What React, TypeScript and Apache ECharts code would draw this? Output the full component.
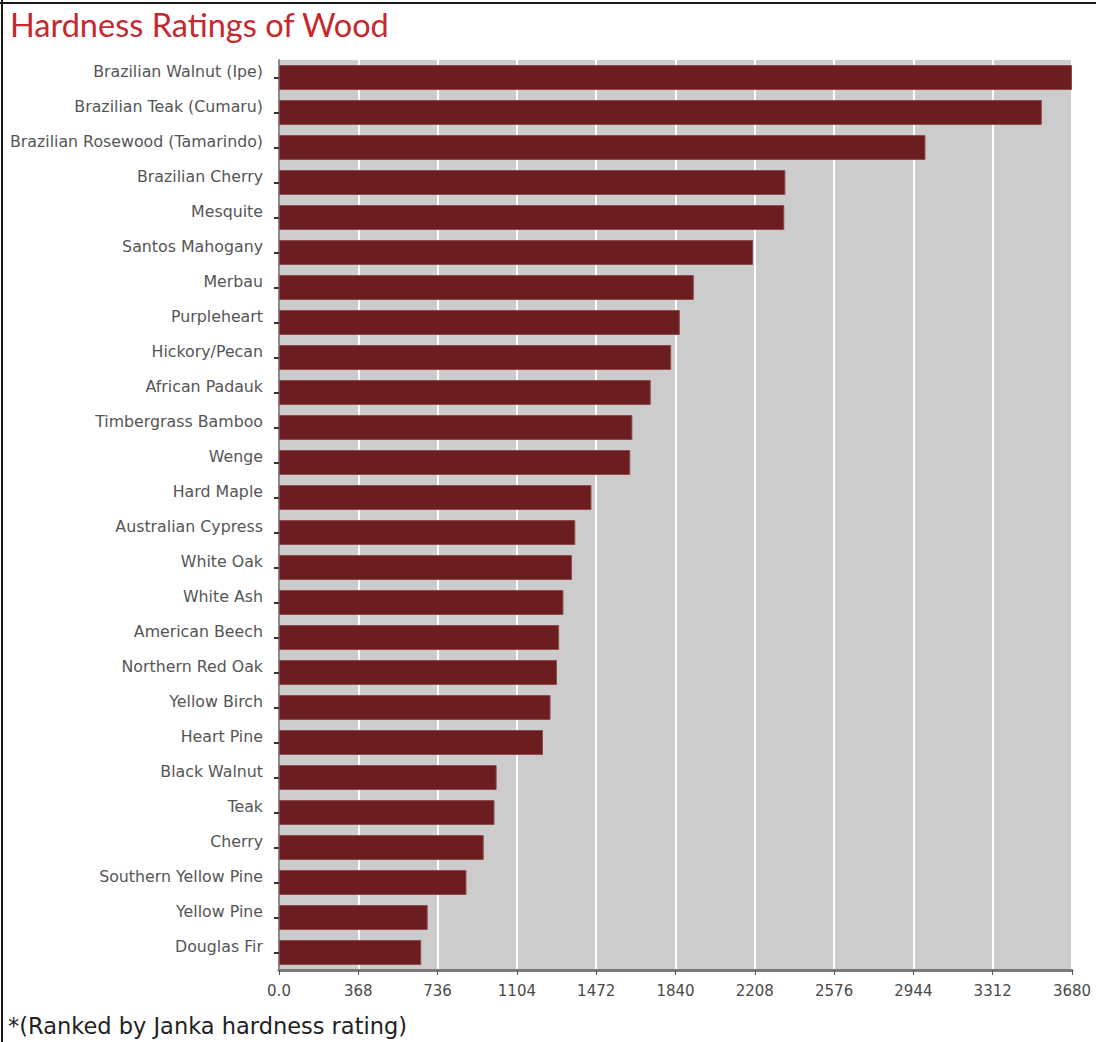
import React, { useEffect, useRef } from "react";
import * as echarts from "echarts";

const titleText = "Hardness Ratings of Wood";
const footnoteText = "*(Ranked by Janka hardness rating)";

const woods = [
  "Brazilian Walnut (Ipe)",
  "Brazilian Teak (Cumaru)",
  "Brazilian Rosewood (Tamarindo)",
  "Brazilian Cherry",
  "Mesquite",
  "Santos Mahogany",
  "Merbau",
  "Purpleheart",
  "Hickory/Pecan",
  "African Padauk",
  "Timbergrass Bamboo",
  "Wenge",
  "Hard Maple",
  "Australian Cypress",
  "White Oak",
  "White Ash",
  "American Beech",
  "Northern Red Oak",
  "Yellow Birch",
  "Heart Pine",
  "Black Walnut",
  "Teak",
  "Cherry",
  "Southern Yellow Pine",
  "Yellow Pine",
  "Douglas Fir",
];

const hardness = [
  3680, 3540, 3000, 2350, 2345, 2200, 1925, 1860, 1820, 1725, 1640, 1630,
  1450, 1375, 1360, 1320, 1300, 1290, 1260, 1225, 1010, 1000, 950, 870, 690,
  660,
];

const axisMin = 0;
const axisMax = 3680;
const axisInterval = 368;

export default function App() {
  const ref = useRef<HTMLDivElement>(null);

  useEffect(() => {
    if (!ref.current) return;
    const chart = echarts.init(ref.current, undefined, { renderer: "svg" });
    chart.setOption({
      animation: false,
      backgroundColor: "#ffffff",
      title: {
        text: titleText,
        left: 5,
        top: 3,
        textStyle: {
          fontFamily: "Lato",
          fontWeight: "normal",
          fontSize: 32.5,
          color: "#c4292e",
        },
      },
      grid: {
        left: 279,
        right: 24,
        top: 60,
        bottom: 72,
        show: true,
        backgroundColor: "#cccccc",
        borderWidth: 0,
      },
      xAxis: {
        type: "value",
        min: axisMin,
        max: axisMax,
        interval: axisInterval,
        axisLine: { show: true, lineStyle: { color: "#7a7a7a", width: 3 } },
        axisTick: { show: true, length: 5, lineStyle: { color: "#555555", width: 1 } },
        splitLine: { show: true, lineStyle: { color: "#ffffff", width: 2 } },
        axisLabel: {
          color: "#4a4a4a",
          fontFamily: "DejaVu Sans",
          fontSize: 15,
          margin: 13,
          formatter: (v: number) => (v === 0 ? "0.0" : String(v)),
        },
      },
      yAxis: {
        type: "category",
        data: woods,
        inverse: true,
        axisLine: { show: true, lineStyle: { color: "#8a8a8a", width: 2 } },
        axisTick: {
          show: true,
          alignWithLabel: true,
          length: 5,
          lineStyle: { color: "#333333", width: 2 },
        },
        splitLine: { show: false },
        axisLabel: {
          color: "#555555",
          fontFamily: "DejaVu Sans",
          fontSize: 15.8,
          margin: 16,
          verticalAlign: "bottom",
          lineHeight: 12,
        },
      },
      series: [
        {
          type: "bar",
          data: hardness,
          barCategoryGap: "28.6%",
          itemStyle: {
            color: "#6b1d1f",
            borderColor: "#8f4a4c",
            borderWidth: 1,
          },
        },
      ],
      graphic: [
        {
          type: "line",
          shape: { x1: 0, y1: 3, x2: 1096, y2: 3 },
          style: { stroke: "#1a1a1a", lineWidth: 2 },
        },
        {
          type: "line",
          shape: { x1: 2, y1: 0, x2: 2, y2: 1042 },
          style: { stroke: "#1a1a1a", lineWidth: 2 },
        },
        {
          type: "text",
          left: 8,
          top: 1014,
          style: {
            text: footnoteText,
            fontFamily: "DejaVu Sans",
            fontSize: 22.5,
            fill: "#222222",
          },
        },
      ],
    });
    return () => chart.dispose();
  }, []);

  return (
    <div
      style={{
        position: "absolute",
        left: 0,
        top: 0,
        width: 1096,
        height: 1042,
        background: "#ffffff",
      }}
    >
      <div ref={ref} style={{ width: 1096, height: 1042 }} />
    </div>
  );
}
